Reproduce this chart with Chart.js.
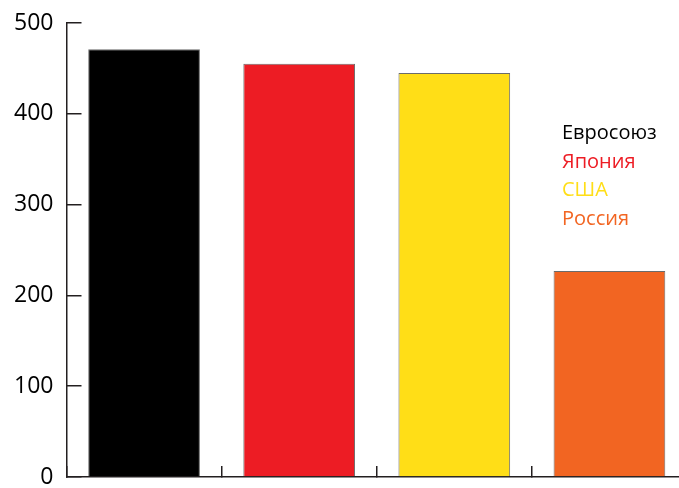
<!DOCTYPE html>
<html>
<head>
<meta charset="utf-8">
<script src="https://cdn.jsdelivr.net/npm/chart.js@4"></script>
<style>
  html, body { margin: 0; padding: 0; background: #fff; overflow: hidden; }
  #wrap { width: 700px; height: 488px; }
</style>
</head>
<body>
<div id="wrap"><canvas id="chart"></canvas></div>
<script>
"use strict";

const categories = ["Евросоюз", "Япония", "США", "Россия"];
const values = [471, 455, 445, 227];
const colors = ["#000000", "#ED1C24", "#FFDE17", "#F26522"];
const yTicks = [0, 100, 200, 300, 400, 500];

const FONT = '"Open Sans", "Noto Sans", sans-serif';
const AXIS = "#231F20";

// legend is plain coloured words, no boxes
const textLegend = {
  id: "textLegend",
  afterDraw(chart) {
    const ctx = chart.ctx;
    ctx.save();
    ctx.font = "20px " + FONT;
    ctx.textAlign = "left";
    ctx.textBaseline = "alphabetic";
    categories.forEach((name, i) => {
      ctx.fillStyle = colors[i];
      ctx.fillText(name, 562, 139 + i * 28.7);
    });
    ctx.restore();
  }
};

new Chart(document.getElementById("chart"), {
  type: "bar",
  data: {
    labels: categories,
    datasets: [{
      data: values,
      backgroundColor: colors,
      borderColor: "rgba(70,70,70,0.8)",
      borderWidth: 1,
      barPercentage: 0.72,
      categoryPercentage: 1
    }]
  },
  options: {
    responsive: true,
    maintainAspectRatio: false,
    animation: false,
    layout: { padding: { top: 23, right: 13, left: 0, bottom: 0 } },
    plugins: {
      legend: { display: false },
      tooltip: { enabled: false }
    },
    scales: {
      x: {
        afterFit: (s) => {
          s.height = 11;
          s.paddingLeft = 0;
          s.paddingRight = 0;
        },
        ticks: { display: false },
        grid: {
          display: true,
          drawOnChartArea: false,
          drawTicks: true,
          tickLength: -11,
          color: AXIS,
          lineWidth: 1.5
        },
        border: { display: true, color: AXIS, width: 1.5 }
      },
      y: {
        min: 0,
        max: 500,
        afterFit: (s) => {
          s.width = 66.5;
          s.paddingTop = 0;
          s.paddingBottom = 0;
        },
        afterBuildTicks: (s) => { s.ticks = yTicks.map((v) => ({ value: v })); },
        ticks: {
          color: "#000",
          padding: 28,
          font: { family: FONT, size: 23 }
        },
        grid: {
          display: true,
          drawOnChartArea: false,
          drawTicks: true,
          tickLength: -15,
          color: AXIS,
          lineWidth: 1.5
        },
        border: { display: true, color: AXIS, width: 1.5 }
      }
    }
  },
  plugins: [textLegend]
});
</script>
</body>
</html>
